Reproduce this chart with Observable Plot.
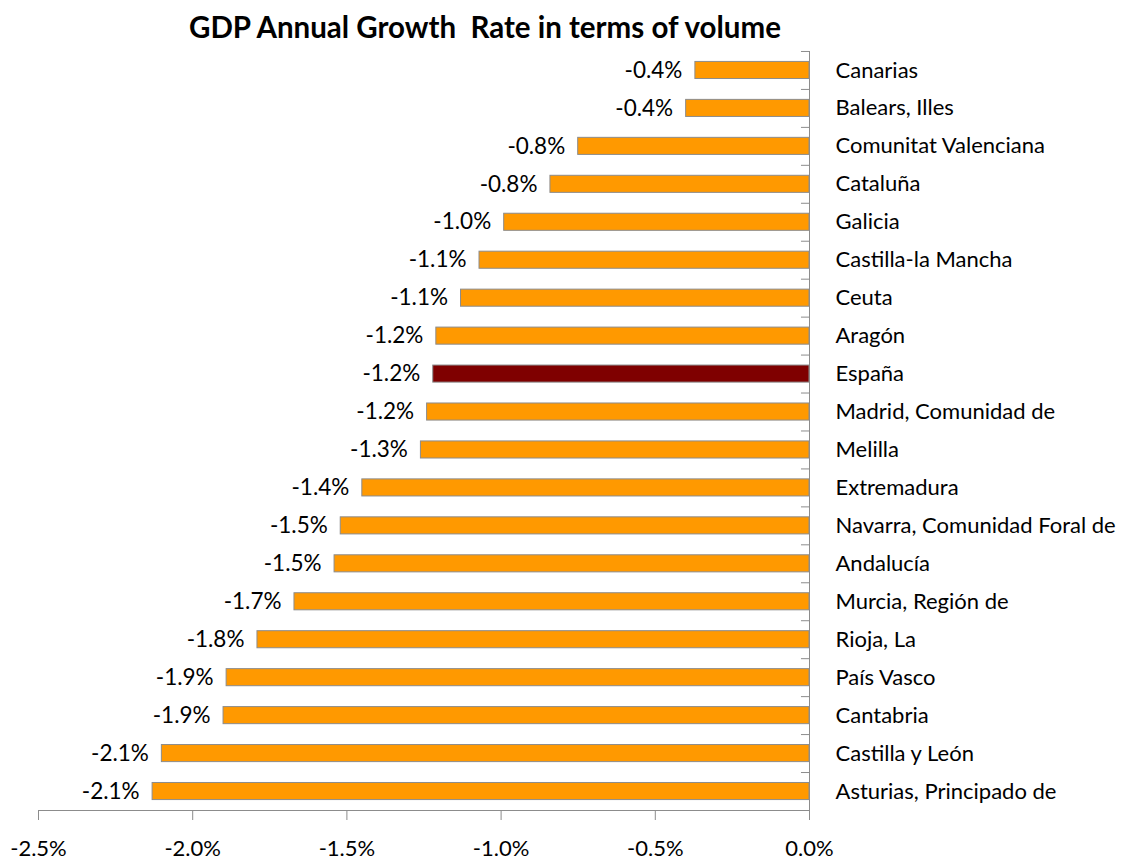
<!DOCTYPE html>
<html>
<head>
<meta charset="utf-8">
<script src="https://cdn.jsdelivr.net/npm/d3@7"></script>
<script src="https://cdn.jsdelivr.net/npm/@observablehq/plot@0.6"></script>
<style>
  html, body { margin: 0; padding: 0; background: #fff; overflow: hidden; width: 1121px; height: 859px; }
  #title { position: relative; height: 48px; width: 1121px; }
  #title span { position: absolute; left: 189px; top: 9px; font-family: Lato, "Open Sans", sans-serif; font-weight: bold; font-size: 29.5px; white-space: pre; color: #000; }
  #chart svg { display: block; }
</style>
</head>
<body>
<div id="title"><span>GDP Annual Growth  Rate in terms of volume</span></div>
<div id="chart"></div>
<script>
const regions = [
  "Canarias", "Balears, Illes", "Comunitat Valenciana", "Cataluña", "Galicia",
  "Castilla-la Mancha", "Ceuta", "Aragón", "España", "Madrid, Comunidad de",
  "Melilla", "Extremadura", "Navarra, Comunidad Foral de", "Andalucía",
  "Murcia, Región de", "Rioja, La", "País Vasco", "Cantabria",
  "Castilla y León", "Asturias, Principado de"
];
const growth = [
  -0.37, -0.40, -0.75, -0.84, -0.99,
  -1.07, -1.13, -1.21, -1.22, -1.24,
  -1.26, -1.45, -1.52, -1.54,
  -1.67, -1.79, -1.89, -1.90,
  -2.10, -2.13
];
const xTicks = [-2.5, -2.0, -1.5, -1.0, -0.5, 0.0];
const highlight = "España";

const data = regions.map((r, i) => ({region: r, value: growth[i]}));
const fmt = v => v.toFixed(1) + "%";

const chart = Plot.plot({
  width: 1121,
  height: 830,
  marginTop: 3,
  marginBottom: 68,
  marginLeft: 38,
  marginRight: 312,
  style: {fontFamily: "Lato, 'Open Sans', sans-serif", background: "#fff"},
  x: {domain: [-2.5, 0], ticks: xTicks, tickFormat: fmt, tickSize: 10, tickPadding: 20, label: null},
  y: {domain: regions, paddingInner: 0.55, paddingOuter: 0.275, round: false, range: [3, 762], axis: null},
  marks: [
    Plot.barX(data, {
      y: "region", x: "value",
      fill: d => d.region === highlight ? "#7F0000" : "#FF9900",
      stroke: "#8C8C8C", strokeWidth: 1
    }),
    Plot.ruleY(regions, {y: d => d, x1: -0.026, x2: 0, dy: -19, stroke: "#8C8C8C"}),
    Plot.ruleX([0], {stroke: "#8C8C8C"}),
    Plot.frame({anchor: "bottom", stroke: "#8C8C8C"}),
    Plot.axisX({ticks: xTicks, tickFormat: fmt, tickSize: 10, tickPadding: 20, fontSize: 22, stroke: "#8C8C8C", color: "#000", label: null}),
    Plot.text(data, {
      y: "region", x: "value", text: d => fmt(d.value),
      textAnchor: "end", dx: -13, fontSize: 22.5, fill: "#000"
    }),
    Plot.text(data, {
      y: "region", x: 0, text: "region",
      textAnchor: "start", dx: 26, fontSize: 22, fill: "#000"
    })
  ]
});
document.getElementById("chart").appendChild(chart);
</script>
</body>
</html>
